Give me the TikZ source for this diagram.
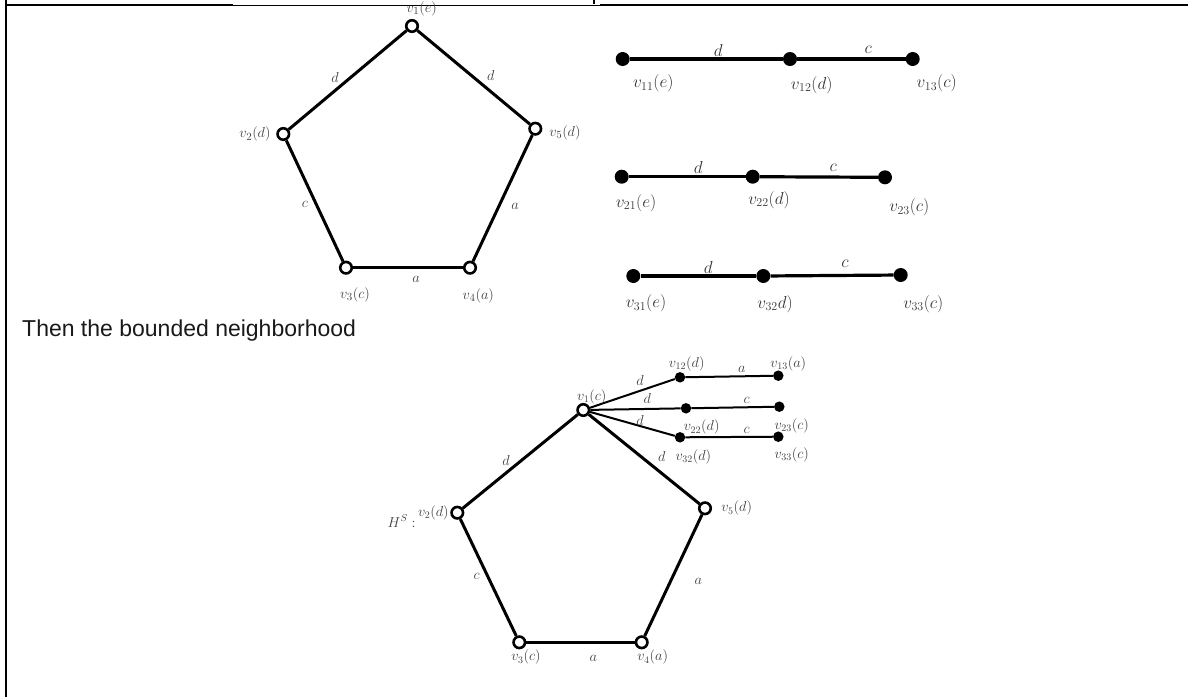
\documentclass[tikz,border=0pt]{standalone}
\usepackage{fontspec}
\setmainfont{Liberation Sans}
\begin{document}
\begin{tikzpicture}[x=1pt,y=-1pt,
  open/.style={circle,draw,line width=2.6pt,fill=white,minimum size=11.5pt,inner sep=0pt},
  dotA/.style={circle,fill,minimum size=14pt,inner sep=0pt},
  dotB/.style={circle,fill,minimum size=10.5pt,inner sep=0pt},
  edgeA/.style={line width=3pt},
  rowA/.style={line width=3.2pt},
  rowB/.style={line width=2pt},
  lblA/.style={font=\fontsize{15.5}{18}\selectfont,text=black!75,inner sep=0pt},
  lblR/.style={font=\fontsize{18.5}{22}\selectfont,text=black!80,inner sep=0pt},
  lblB/.style={font=\fontsize{14}{17}\selectfont,text=black!75,inner sep=0pt},
  frame/.style={line width=2.2pt}]
\useasboundingbox (0,0) rectangle (1188,697);
% frame
\coordinate (fl1) at (6,0); \coordinate (fl2) at (6,697);
\coordinate (ft1) at (5,5); \coordinate (ft2) at (233,5);
\coordinate (ft3) at (600,5); \coordinate (ft4) at (1188,5);
\coordinate (fk1) at (594,0); \coordinate (fk2) at (594,4);
\draw[frame] (fl1) -- (fl2);
\draw[line width=2pt] (ft1) -- (ft2);
\draw[line width=1pt] (ft2) -- (ft3);
\draw[line width=2pt] (ft3) -- (ft4);
\draw[line width=2pt] (fk1) -- (fk2);

% ---------- top pentagon ----------
\node[open] (a1) at (412,26) {};
\node[open] (a2) at (283.3,134) {};
\node[open] (a5) at (535.3,128.7) {};
\node[open] (a3) at (346,267.7) {};
\node[open] (a4) at (470,267.7) {};
\draw[edgeA] (a1) -- (a2);
\draw[edgeA] (a1) -- (a5);
\draw[edgeA] (a2) -- (a3);
\draw[edgeA] (a3) -- (a4);
\draw[edgeA] (a4) -- (a5);
\node[lblA] (la1) at (421.7,9) {$v_1(e)$};
\node[lblA] (la2) at (255,134.3) {$v_2(d)$};
\node[lblA] (la5) at (565,132.7) {$v_5(d)$};
\node[lblA] (la3) at (355,295) {$v_3(c)$};
\node[lblA] (la4) at (478.3,295.7) {$v_4(a)$};
\node[lblA] (ea12) at (335,77) {$d$};
\node[lblA] (ea15) at (490.7,75) {$d$};
\node[lblA] (ea23) at (305,204) {$c$};
\node[lblA] (ea45) at (515,206.7) {$a$};
\node[lblA] (ea34) at (416,279) {$a$};

% ---------- top right rows ----------
\node[dotA] (r11) at (622.7,59) {};
\node[dotA] (r12) at (790,59) {};
\node[dotA] (r13) at (912.7,59) {};
\draw[rowA] (r11) -- (r12);
\draw[rowA] (r12) -- (r13);
\node[lblR] (er1a) at (718.3,50) {$d$};
\node[lblR] (er1b) at (868.3,49.3) {$c$};
\node[lblR] (lr11) at (653.3,83.3) {$v_{11}(e)$};
\node[lblR] (lr12) at (811.7,85) {$v_{12}(d)$};
\node[lblR] (lr13) at (936.7,83.3) {$v_{13}(c)$};

\node[dotA] (r21) at (621.7,176.7) {};
\node[dotA] (r22) at (752.7,176.7) {};
\node[dotA] (r23) at (885,177.3) {};
\draw[rowA] (r21) -- (r22);
\draw[rowA] (r22) -- (r23);
\node[lblR] (er2a) at (698.3,167.3) {$d$};
\node[lblR] (er2b) at (833.3,167.3) {$c$};
\node[lblR] (lr21) at (636,202.7) {$v_{21}(e)$};
\node[lblR] (lr22) at (769,200) {$v_{22}(d)$};
\node[lblR] (lr23) at (909.3,207.3) {$v_{23}(c)$};

\node[dotA] (r31) at (633.3,276) {};
\node[dotA] (r32) at (763.3,276) {};
\node[dotA] (r33) at (900.7,275) {};
\draw[rowA] (r31) -- (r32);
\draw[rowA] (r32) -- (r33);
\node[lblR] (er3a) at (708.3,267.3) {$d$};
\node[lblR] (er3b) at (845,263.3) {$c$};
\node[lblR] (lr31) at (646,303.3) {$v_{31}(e)$};
\node[lblR] (lr32) at (775,304) {$v_{32}d)$};
\node[lblR] (lr33) at (923.3,304) {$v_{33}(c)$};

% ---------- text ----------
\node[anchor=base west,inner sep=0pt,font=\fontsize{23}{27}\selectfont,text=black!90] (txt) at (22,336.5) {Then the bounded neighborhood};

% ---------- bottom graph ----------
\node[open] (b1) at (583.3,410) {};
\node[open] (b2) at (457.3,512.7) {};
\node[open] (b5) at (705,508.3) {};
\node[open] (b3) at (519.3,642.3) {};
\node[open] (b4) at (641.7,642.3) {};
\draw[edgeA] (b1) -- (b2);
\draw[edgeA] (b1) -- (b5);
\draw[edgeA] (b2) -- (b3);
\draw[edgeA] (b3) -- (b4);
\draw[edgeA] (b4) -- (b5);

\node[dotB] (s12) at (680,377.3) {};
\node[dotB] (s13) at (778.3,375.7) {};
\node[dotB] (s22) at (686,408.3) {};
\node[dotB] (s23) at (779.3,406.7) {};
\node[dotB] (s32) at (680,437.3) {};
\node[dotB] (s33) at (778.3,436.7) {};
\draw[rowB] (b1) -- (s12);
\draw[rowB] (b1) -- (s22);
\draw[rowB] (b1) -- (s32);
\draw[rowB] (s12) -- (s13);
\draw[rowB] (s22) -- (s23);
\draw[rowB] (s32) -- (s33);

\node[lblB] (lb1) at (591.7,396.7) {$v_1(c)$};
\node[lblB] (lb12) at (686.7,364) {$v_{12}(d)$};
\node[lblB] (lb13) at (788.3,364) {$v_{13}(a)$};
\node[lblB] (eb1) at (741.7,369.3) {$a$};
\node[lblB] (eb2) at (640,380) {$d$};
\node[lblB] (eb3) at (647.3,398.3) {$d$};
\node[lblB] (eb4) at (746.7,400) {$c$};
\node[lblB] (eb5) at (640,420) {$d$};
\node[lblB] (lb22) at (701.7,427.3) {$v_{22}(d)$};
\node[lblB] (eb6) at (746.7,430) {$c$};
\node[lblB] (lb23) at (791.7,426) {$v_{23}(c)$};
\node[lblB] (eb7) at (661.7,456.7) {$d$};
\node[lblB] (lb32) at (693.3,456.7) {$v_{32}(d)$};
\node[lblB] (lb33) at (791.7,455) {$v_{33}(c)$};
\node[lblB] (eb8) at (506,460) {$d$};

\node[lblB] (hs) at (401.7,521) {$H^S:$};
\node[lblB] (lb2) at (433.3,512.7) {$v_2(d)$};
\node[lblB] (lb5) at (736.7,508.3) {$v_5(d)$};
\node[lblB] (eb9) at (476.7,576.7) {$c$};
\node[lblB] (eb10) at (698.3,581.7) {$a$};
\node[lblB] (lb3) at (526,657.3) {$v_3(c)$};
\node[lblB] (eb11) at (593.3,658.3) {$a$};
\node[lblB] (lb4) at (652.7,657.3) {$v_4(a)$};
\end{tikzpicture}
\end{document}
